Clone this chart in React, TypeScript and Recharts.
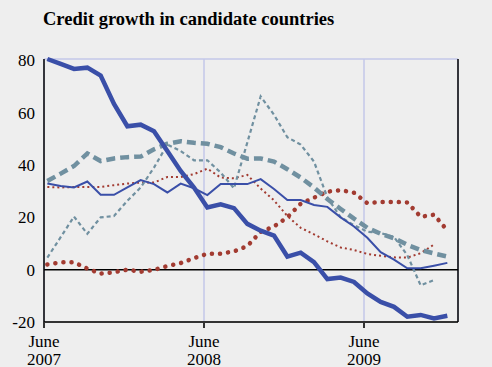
import {
  CartesianGrid,
  Line,
  LineChart,
  ReferenceLine,
  XAxis,
  YAxis,
} from 'recharts';

// monthly points, June 2007 .. December 2009
const months = Array.from({ length: 31 }, (_, i) => i);

const thickBlue = [
  80.5, 78.6, 76.7, 77.2, 74.2, 63.3, 54.8, 55.4, 52.9, 45.3, 37.7, 31.4, 23.8, 25, 23.5, 17.5,
  14.9, 13, 5, 6.5, 2.9, -3.6, -3, -4.7, -9.1, -12.3, -14.2, -18, -17.3, -18.6, -17.6,
];
const thinBlue = [
  32.9, 32, 31.4, 33.7, 28.6, 28.6, 31.4, 34.2, 32.7, 29.5, 32.9, 31.1, 28.5, 32.7, 32.7, 32.7,
  34.6, 30.8, 26.6, 26.6, 24.7, 24, 20, 16.5, 12.2, 6.7, 3.8, 0.5, 0.5, 1.5, 2.6,
];
const thickGrey = [
  33.9, 36.7, 39.6, 44.4, 41.5, 42.5, 43, 43.2, 46, 48.1, 49.1, 48.5, 48.1, 46.8, 44.4, 42.4,
  42.5, 41.3, 38.4, 35.2, 31.4, 27, 23.2, 19.5, 16, 13.7, 12, 9.5, 7.5, 6.2, 5,
];
const thinGrey = [
  4.6, 12.4, 20.3, 13.7, 20, 20.5, 26.3, 31.4, 39, 47.8, 45.3, 41.8, 41.8, 37.1, 31.1, 48.6,
  66.2, 59.2, 50.6, 47.8, 41.3, 27.6, 20, 17, 14.5, 14, 12.5, 5.5, -6, -4, null,
];
const thinRed = [
  31.6, 31.4, 31.6, 31.6, 31.6, 32.3, 32.9, 33.3, 33.3, 35.4, 35.4, 36.5, 38.6, 35.2, 34.9, 36.2,
  31, 26.5, 20.5, 16, 13.5, 10.8, 8.5, 7.5, 6, 5.3, 4.7, 4.6, 6.3, 9.6, null,
];
const thickRed = [
  2, 2.8, 2.8, 0.4, -1.5, -1, 0, -0.8, -0.1, 1.4, 2.5, 4.4, 6.1, 6.1, 7, 9, 14.5, 16.5, 20,
  25.2, 27.5, 29.8, 30.4, 29.4, 25.4, 25.9, 25.9, 25.7, 20.2, 21, 15,
];

const xTicks = [-0.25, 11.75, 23.75];
const xTickYears = ['2007', '2008', '2009'];
const yTicks = [-20, 0, 20, 40, 60, 80];

const BLUE = '#3a4fa8';
const GREY = '#7090a0';
const RED = '#a23b31';
const GRID = '#c3c7e8';
const FONT = '"Liberation Serif", "Times New Roman", serif';

const data = months.map((i) => ({
  i,
  thickBlue: thickBlue[i],
  thinBlue: thinBlue[i],
  thickGrey: thickGrey[i],
  thinGrey: thinGrey[i],
  thinRed: thinRed[i],
  thickRed: thickRed[i],
}));

const XTick = (props: any) => {
  const { x, y, index } = props;
  return (
    <g>
      <text x={x} y={y + 19} textAnchor="middle" fontSize={17} fontFamily={FONT} fill="#000">
        June
      </text>
      <text x={x} y={y + 37} textAnchor="middle" fontSize={17} fontFamily={FONT} fill="#000">
        {xTickYears[index]}
      </text>
    </g>
  );
};

export default function App() {
  const tickStyle = { fontSize: 17, fontFamily: FONT, fill: '#000' };
  return (
    <div
      style={{
        position: 'absolute',
        left: 0,
        top: 0,
        width: 492,
        height: 367,
        background: '#eeeeee',
        overflow: 'hidden',
      }}
    >
      <div
        style={{
          position: 'absolute',
          left: 43,
          top: 9,
          fontFamily: FONT,
          fontWeight: 'bold',
          fontSize: 18.5,
          color: '#000',
          whiteSpace: 'nowrap',
        }}
      >
        Credit growth in candidate countries
      </div>
      <LineChart
        width={492}
        height={367}
        data={data}
        margin={{ top: 59, right: 0, bottom: 0, left: 0 }}
      >
        <CartesianGrid stroke={GRID} strokeWidth={1.5} />
        <XAxis
          type="number"
          dataKey="i"
          domain={[-0.25, 30.8]}
          ticks={xTicks}
          height={45}
          tick={<XTick />}
          tickSize={6}
          tickMargin={0}
          axisLine={{ stroke: '#333', strokeWidth: 2 }}
          tickLine={{ stroke: '#333', strokeWidth: 2 }}
          allowDataOverflow
        />
        <YAxis
          yAxisId="left"
          domain={[-20, 80]}
          ticks={yTicks}
          width={44}
          tickSize={0}
          tickMargin={9}
          tickLine={false}
          axisLine={{ stroke: '#000', strokeWidth: 1.5 }}
          tick={tickStyle}
        />
        <YAxis
          yAxisId="right"
          orientation="right"
          domain={[-20, 80]}
          ticks={yTicks}
          width={34}
          tickSize={0}
          tickMargin={14}
          tickLine={false}
          axisLine={{ stroke: '#000', strokeWidth: 1.5 }}
          tick={tickStyle}
        />
        <ReferenceLine yAxisId="left" y={0} stroke="#000" strokeWidth={1.5} />
        <Line
          yAxisId="left"
          dataKey="thickRed"
          stroke={RED}
          strokeWidth={4.5}
          strokeDasharray="0.1 8"
          strokeLinecap="round"
          dot={false}
          isAnimationActive={false}
        />
        <Line
          yAxisId="left"
          dataKey="thinRed"
          stroke={RED}
          strokeWidth={2}
          strokeDasharray="2 3"
          dot={false}
          isAnimationActive={false}
        />
        <Line
          yAxisId="left"
          dataKey="thinGrey"
          stroke={GREY}
          strokeWidth={2.2}
          strokeDasharray="4 3"
          dot={false}
          isAnimationActive={false}
        />
        <Line
          yAxisId="left"
          dataKey="thickGrey"
          stroke={GREY}
          strokeWidth={4.5}
          strokeDasharray="9 5"
          dot={false}
          isAnimationActive={false}
        />
        <Line
          yAxisId="left"
          dataKey="thinBlue"
          stroke={BLUE}
          strokeWidth={2}
          dot={false}
          isAnimationActive={false}
        />
        <Line
          yAxisId="left"
          dataKey="thickBlue"
          stroke={BLUE}
          strokeWidth={4.5}
          dot={false}
          isAnimationActive={false}
        />
      </LineChart>
    </div>
  );
}
